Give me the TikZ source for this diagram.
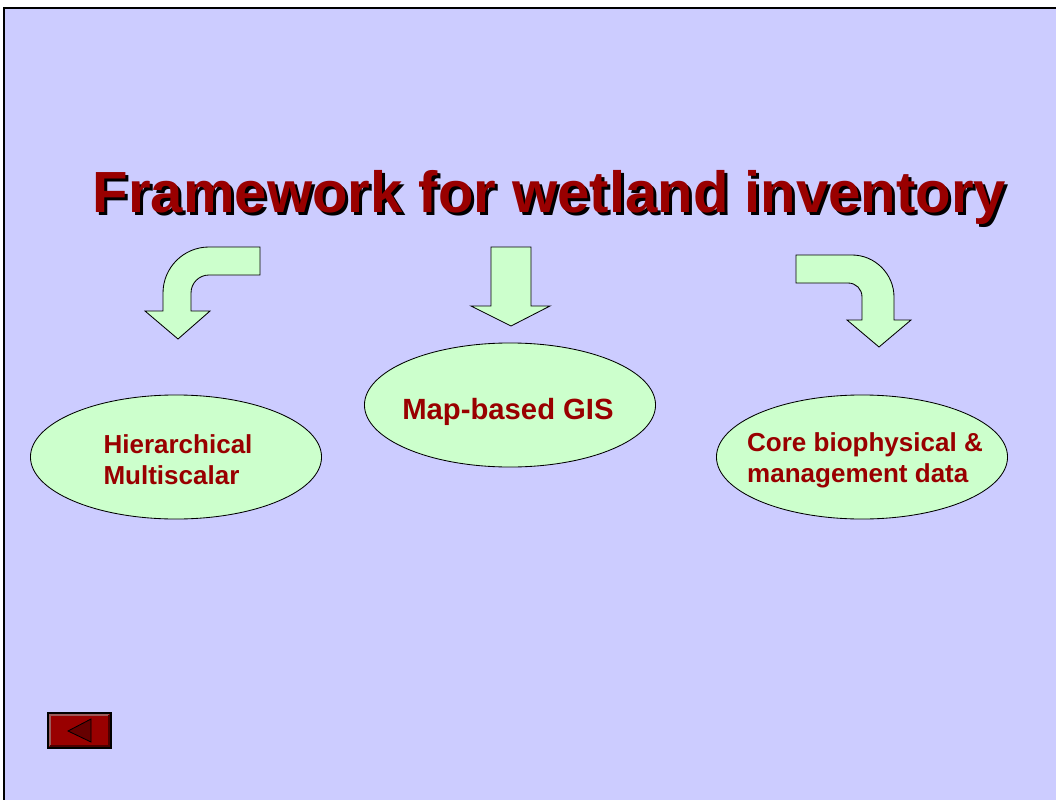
\documentclass[tikz,border=0pt]{standalone}
\usepackage{fontspec}
\setmainfont{Liberation Sans}
\usetikzlibrary{shapes.geometric,positioning}
\usepackage{xcolor}
\definecolor{slidebg}{HTML}{CCCCFF}
\definecolor{palegreen}{HTML}{CCFFCC}
\definecolor{darkred}{HTML}{990000}
\definecolor{btnlight}{HTML}{9A5A5A}
\definecolor{btndark}{HTML}{4D0000}
\definecolor{btntri}{HTML}{660000}

\begin{document}
\begin{tikzpicture}[x=0.025cm,y=-0.025cm,
    bubble/.style={ellipse,draw=black,line width=0.6pt,fill=palegreen,minimum width=7.275cm,minimum height=3.1cm},
    bubbletext/.style={text=darkred,align=left,font=\bfseries\fontsize{18.5}{22}\selectfont,inner sep=0pt},
    titletext/.style={font=\bfseries\fontsize{41.3}{48}\selectfont,anchor=base,inner sep=0pt},
    bendarrow/.style={draw=black,line width=0.6pt,fill=palegreen,line join=miter}]

				\useasboundingbox (0,0) rectangle (1056,800);

				% Sfondo
				\fill[white] (0,0) rectangle (1056,800);
				\filldraw[fill=slidebg,draw=black,line width=1.8pt] (4,8) rectangle (1075,820);

				% Titolo
				\node[titletext,text=black] (titleshadow) at (552.5,216) {Framework for wetland inventory};
				\node[titletext,text=darkred] (title) at ([shift={(-3,-3)}]titleshadow.base) {Framework for wetland inventory};

				% Frecce
				\filldraw[bendarrow] (260,247) -- (209,247) .. controls (183.6,247) and (163,267.6) .. (163,293) -- (163,311) -- (145,311) -- (178,339) -- (210,311) -- (191,311) -- (191,293) .. controls (191,283) and (199,275) .. (209,275) -- (260,275) -- cycle;

				\filldraw[bendarrow] (491,247) -- (531,247) -- (531,306) -- (550,306) -- (511,326) -- (471,306) -- (491,306) -- cycle;

				\filldraw[bendarrow] (796,255) -- (852,255) .. controls (875,255) and (894,274) .. (894,297) -- (894,320) -- (911,320) -- (879,347) -- (847,320) -- (862,320) -- (862,297) .. controls (862,289) and (856,283) .. (848,283) -- (796,283) -- cycle;

				% Ellissi
				\node[bubble] (hier) at (176,457) {};
				\node[bubble] (gis) at (510,405) {};
				\node[bubble] (core) at (862,457) {};

				\node[bubbletext] (hiertext) at ([shift={(2,3)}]hier.center) {Hierarchical\\Multiscalar};
				\node[bubbletext,font=\bfseries\fontsize{20.8}{24}\selectfont] (gistext) at ([shift={(-2,7)}]gis.center) {Map-based GIS};
				\node[bubbletext] (coretext) at ([shift={(3,3)}]core.center) {Core biophysical \&\\management data};

				% Pulsante indietro
				\filldraw[fill=darkred,draw=black,line width=0.8pt] (48,713) rectangle (111,748);
				\draw[line width=1.2pt,btnlight] (50,746) -- (50,715) -- (109,715);
				\draw[line width=1.2pt,btndark] (50,746) -- (109,746) -- (109,715);
				\filldraw[fill=btntri,draw=black,line width=0.6pt] (68,731) -- (91,719) -- (91,742) -- cycle;

\end{tikzpicture}
\end{document}
